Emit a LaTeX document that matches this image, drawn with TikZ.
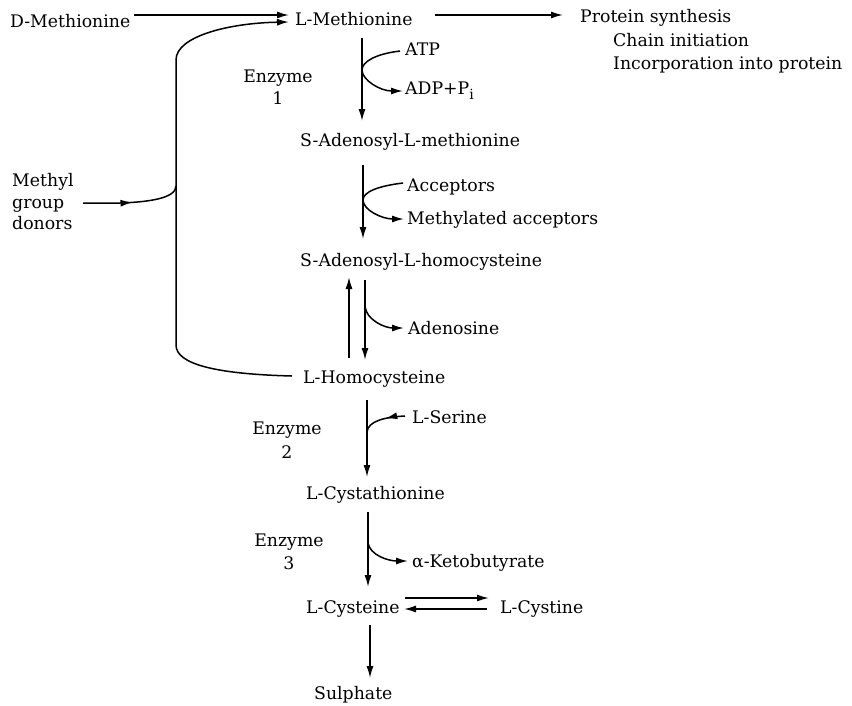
\documentclass[tikz,border=0pt]{standalone}
\usepackage{fontspec}
\setmainfont{DejaVu Serif}
\usetikzlibrary{arrows.meta,decorations.markings}
\begin{document}
\begin{tikzpicture}[x=1pt,y=-1pt,
  lbl/.style={anchor=base west,inner sep=0pt,font=\fontsize{17.3}{20}\selectfont},
  clbl/.style={anchor=base,inner sep=0pt,font=\fontsize{17.3}{20}\selectfont},
  arr/.style={line width=1.5pt,-{Latex[length=12pt,width=7pt]}},
  midarr/.style={line width=1.5pt,postaction={decorate},decoration={markings,mark=at position #1 with {\arrow{Latex[length=12pt,width=7pt]}}}}]
\useasboundingbox (0,0) rectangle (852,705);
% nodes
\node[lbl] (dmet) at (10,27) {D-Methionine};
\node[lbl] (lmet) at (295,25) {L-Methionine};
\node[lbl] (prot) at (580,22) {Protein synthesis};
\node[lbl] (chain) at (613,46) {Chain initiation};
\node[lbl] (incorp) at (613,69) {Incorporation into protein};
\node[lbl] (atp) at (405,55) {ATP};
\node[lbl] (adp) at (405,94) {ADP+P\raisebox{-5pt}{\fontsize{14}{14}\selectfont i}};
\node[clbl] (enz1) at (278,82) {Enzyme};
\node[clbl] (enz1n) at (278,104) {1};
\node[lbl] (sam) at (300,146) {S-Adenosyl-L-methionine};
\node[lbl] (acc) at (407,191) {Acceptors};
\node[lbl] (macc) at (407,224) {Methylated acceptors};
\node[lbl] (sah) at (300,266) {S-Adenosyl-L-homocysteine};
\node[lbl] (ado) at (408,334) {Adenosine};
\node[lbl] (hcy) at (303,383) {L-Homocysteine};
\node[lbl] (methyl) at (12,186) {Methyl};
\node[lbl] (group) at (12,208) {group};
\node[lbl] (donors) at (12,229) {donors};
\node[clbl] (enz2) at (287,434) {Enzyme};
\node[clbl] (enz2n) at (287,458) {2};
\node[lbl] (ser) at (412,423) {L-Serine};
\node[lbl] (cth) at (306,499) {L-Cystathionine};
\node[clbl] (enz3) at (289,546) {Enzyme};
\node[clbl] (enz3n) at (289,569) {3};
\node[lbl] (kb) at (412,567) {α-Ketobutyrate};
\node[lbl] (cys) at (306,613) {L-Cysteine};
\node[lbl] (cyss) at (500,613) {L-Cystine};
\node[lbl] (sul) at (314,699) {Sulphate};
% coordinates
\coordinate (dmE) at (134,15);
\coordinate (lmW1) at (289,15);
\coordinate (lmW2) at (289,22);
\coordinate (lmE) at (435,15);
\coordinate (protW) at (563,15);
\coordinate (a1s) at (362,38);
\coordinate (a1e) at (362,121);
\coordinate (a2s) at (363,165);
\coordinate (a2e) at (363,239);
\coordinate (upS) at (349,358);
\coordinate (upE) at (349,277);
\coordinate (dnS) at (365,280);
\coordinate (dnE) at (365,360);
\coordinate (a3s) at (367,400);
\coordinate (a3e) at (367,477);
\coordinate (a4s) at (368,512);
\coordinate (a4e) at (368,587);
\coordinate (a5s) at (370,625);
\coordinate (a5e) at (370,678);
\coordinate (hcyW) at (292,376);
\coordinate (donE) at (83,203);
\coordinate (fwS) at (405,598);
\coordinate (fwE) at (489,598);
\coordinate (bkS) at (487,609);
\coordinate (bkE) at (404,609);
% connectors
\draw[arr] (dmE) -- (lmW1);
\draw[arr] (lmE) -- (protW);
\draw[arr] (a1s) -- (a1e);
\draw[arr] (400,51) .. controls (375,54) and (362,62) .. (362,70) .. controls (362,80) and (380,91) .. (403,91);
\draw[arr] (a2s) -- (a2e);
\draw[arr] (403,183) .. controls (378,186) and (363,192) .. (363,200) .. controls (363,210) and (382,219) .. (404,219);
\draw[arr] (upS) -- (upE);
\draw[arr] (dnS) -- (dnE);
\draw[arr] (365,306) .. controls (366,320) and (385,328) .. (404,328);
\draw[arr] (hcyW) .. controls (215,374) and (176,364) .. (176,345) -- (176,60) .. controls (176,36) and (230,23) .. (lmW2);
\draw[midarr=0.5] (donE) -- (120,203) .. controls (150,202) and (176,198) .. (176,186);
\draw[arr] (a3s) -- (a3e);
\draw[midarr=0.45] (405,416) .. controls (385,417) and (368,421) .. (367,432);
\draw[arr] (a4s) -- (a4e);
\draw[arr] (368,543) .. controls (370,555) and (388,561) .. (408,561);
\draw[arr] (fwS) -- (fwE);
\draw[arr] (bkS) -- (bkE);
\draw[arr] (a5s) -- (a5e);
\end{tikzpicture}
\end{document}
